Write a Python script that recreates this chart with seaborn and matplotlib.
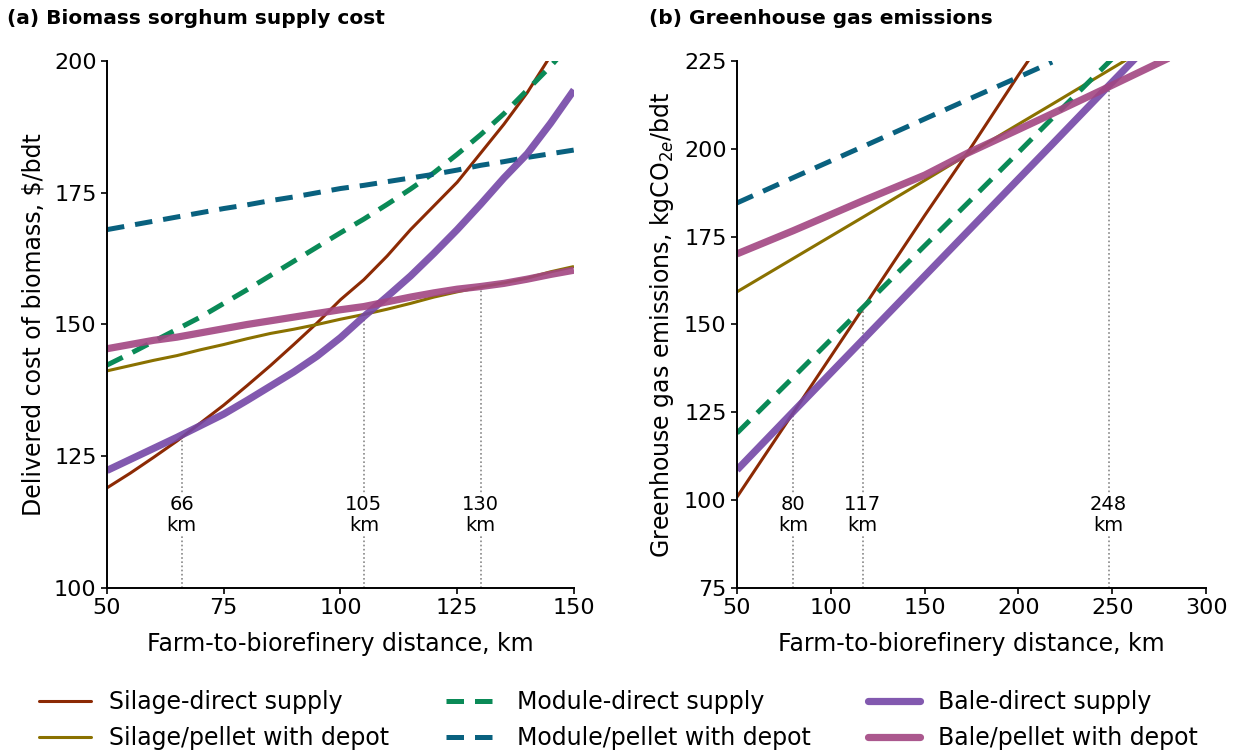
import numpy as np
import pandas as pd
import matplotlib
matplotlib.use("Agg")
import matplotlib.pyplot as plt
from matplotlib.lines import Line2D
import seaborn as sns

# ---------------- (a) delivered cost, $/bdt ----------------
dist_a = [50, 55, 60, 65, 70, 75, 80, 85, 90, 95, 100,
          105, 110, 115, 120, 125, 130, 135, 140, 145, 150]
silage_direct_a = [119.0, 121.8, 124.8, 127.9, 131.3, 134.7, 138.4, 142.2, 146.2, 150.3, 154.7,
                   158.5, 163.0, 168.0, 172.5, 177.0, 182.5, 188.0, 194.0, 201.0, 208.0]
silage_depot_a = [141.2, 142.2, 143.2, 144.1, 145.2, 146.2, 147.3, 148.3, 149.1, 150.0, 151.0,
                  151.9, 152.9, 154.0, 155.2, 156.2, 157.1, 157.9, 158.8, 160.0, 161.0]
module_direct_a = [142.3, 144.5, 146.8, 149.1, 151.4, 154.0, 156.6, 159.3, 162.0, 164.7, 167.4,
                   170.0, 172.8, 175.7, 178.8, 182.3, 186.0, 190.0, 194.5, 199.0, 204.0]
module_depot_a = [168.0, 168.8, 169.6, 170.4, 171.2, 172.0, 172.7, 173.5, 174.2, 175.0, 175.8,
                  176.4, 177.1, 177.8, 178.5, 179.3, 180.2, 180.9, 181.7, 182.4, 183.1]
bale_direct_a = [122.3, 124.4, 126.5, 128.6, 130.8, 133.0, 135.6, 138.3, 141.0, 144.0, 147.5,
                 151.5, 155.3, 159.2, 163.5, 168.0, 172.8, 177.8, 182.4, 188.2, 194.5]
bale_depot_a = [145.4, 146.2, 147.0, 147.6, 148.4, 149.2, 150.0, 150.7, 151.4, 152.1, 152.8,
                153.4, 154.3, 155.2, 156.0, 156.7, 157.2, 157.8, 158.6, 159.5, 160.3]
breakeven_a = [66, 105, 130]
breakeven_a_val = [128.8, 151.5, 156.8]

# ---------------- (b) GHG emissions, kgCO2e/bdt ----------------
dist_b = [50, 80, 117, 150, 173, 200, 218, 248, 280]
silage_direct_b = [100.9, 124.9, 154.5, 181.0, 199.0, 221.0, 235.0, 259.0, 285.0]
silage_depot_b = [159.3, 168.8, 180.5, 191.0, 198.4, 207.0, 212.7, 222.3, 232.5]
module_direct_b = [119.1, 135.0, 154.8, 172.4, 184.6, 199.0, 208.7, 224.6, 241.6]
module_depot_b = [184.6, 191.8, 200.6, 208.5, 214.0, 220.4, 224.7, np.nan, np.nan]
bale_direct_b = [108.6, 125.2, 145.6, 163.8, 176.5, 191.4, 201.3, 217.9, 235.5]
bale_depot_b = [170.1, 176.7, 185.2, 192.5, 198.8, 205.5, 210.0, 217.6, 225.8]
breakeven_b = [80, 117, 248]
breakeven_b_val = [125.0, 154.6, 217.7]

labels = ["Silage-direct supply", "Silage/pellet with depot",
          "Module-direct supply", "Module/pellet with depot",
          "Bale-direct supply", "Bale/pellet with depot"]
colors = ["#8c2a04", "#8a7100", "#0a8a57", "#09617f", "#7447a6", "#a24682"]
widths = [2.2, 2.2, 3.6, 3.6, 5.2, 5.2]
dashes = [None, None, (3.5, 2.2), (3.5, 2.2), None, None]
alphas = [1.0, 1.0, 1.0, 1.0, 0.9, 0.9]

sns.set_theme(style="ticks")
plt.rcParams["font.family"] = ["DejaVu Sans"]
for key in ("text.color", "axes.labelcolor", "xtick.color", "ytick.color", "axes.edgecolor"):
    plt.rcParams[key] = "black"

fig = plt.figure(figsize=(12.37, 7.5), dpi=100)
ax_a = fig.add_axes([0.0865, 0.216, 0.3775, 0.7027])
ax_b = fig.add_axes([0.5958, 0.216, 0.3792, 0.7027])


def long_frame(dist, series):
    rows = []
    for name, vals in zip(labels, series):
        for d, v in zip(dist, vals):
            rows.append({"dist": d, "value": v, "scenario": name})
    return pd.DataFrame(rows)


def draw(ax, df):
    for i, name in enumerate(labels):
        sub = df[df["scenario"] == name].dropna()
        kw = dict(color=colors[i], linewidth=widths[i], alpha=alphas[i],
                  solid_capstyle="butt")
        if dashes[i] is not None:
            kw["dashes"] = dashes[i]
        sns.lineplot(data=sub, x="dist", y="value", ax=ax, legend=False,
                     estimator=None, sort=True, **kw)


df_a = long_frame(dist_a, [silage_direct_a, silage_depot_a, module_direct_a,
                           module_depot_a, bale_direct_a, bale_depot_a])
df_b = long_frame(dist_b, [silage_direct_b, silage_depot_b, module_direct_b,
                           module_depot_b, bale_direct_b, bale_depot_b])

draw(ax_a, df_a)
draw(ax_b, df_b)

# break-even distance markers
for ax, xs, ys, ylo, ytxt in [(ax_a, breakeven_a, breakeven_a_val, 100, 113.8),
                              (ax_b, breakeven_b, breakeven_b_val, 75, 95.8)]:
    for x, y in zip(xs, ys):
        ax.plot([x, x], [ylo, y], color="#888888", linestyle=(0, (1, 1.5)),
                linewidth=1.2, zorder=1)
        ax.text(x, ytxt, f"{x}\nkm", ha="center", va="center", fontsize=14,
                linespacing=1.15, color="black",
                bbox=dict(facecolor="white", edgecolor="none", pad=0.5), zorder=2)

ax_a.set_xlim(50, 150)
ax_a.set_ylim(100, 200)
ax_a.set_xticks([50, 75, 100, 125, 150])
ax_a.set_yticks([100, 125, 150, 175, 200])
ax_a.set_xlabel("Farm-to-biorefinery distance, km", fontsize=17, labelpad=10)
ax_a.set_ylabel("Delivered cost of biomass, $/bdt", fontsize=17, labelpad=6)

ax_b.set_xlim(50, 300)
ax_b.set_ylim(75, 225)
ax_b.set_xticks([50, 100, 150, 200, 250, 300])
ax_b.set_yticks([75, 100, 125, 150, 175, 200, 225])
ax_b.set_xlabel("Farm-to-biorefinery distance, km", fontsize=17, labelpad=10)
ax_b.set_ylabel("Greenhouse gas emissions, kgCO$_{2e}$/bdt", fontsize=17, labelpad=6)

for ax in (ax_a, ax_b):
    sns.despine(ax=ax)
    ax.tick_params(axis="both", labelsize=16, colors="black", width=1.2, length=4)
    for s in ("left", "bottom"):
        ax.spines[s].set_color("black")
        ax.spines[s].set_linewidth(1.4)

fig.text(0.006, 0.975, "(a) Biomass sorghum supply cost", fontsize=14.5,
         fontweight="bold", ha="left", va="center")
fig.text(0.525, 0.975, "(b) Greenhouse gas emissions", fontsize=14.5,
         fontweight="bold", ha="left", va="center")

handles = []
for i, name in enumerate(labels):
    kw = dict(color=colors[i], linewidth=widths[i], alpha=alphas[i])
    if dashes[i] is not None:
        kw["dashes"] = dashes[i]
    handles.append(Line2D([0], [0], label=name, **kw))

fig.legend(handles=handles, loc="center", bbox_to_anchor=(0.5, 0.04), ncol=3,
           frameon=False, fontsize=17, handlelength=2.2, handletextpad=0.8,
           columnspacing=2.4, labelspacing=0.5)

fig.savefig("out.png", dpi=100)
